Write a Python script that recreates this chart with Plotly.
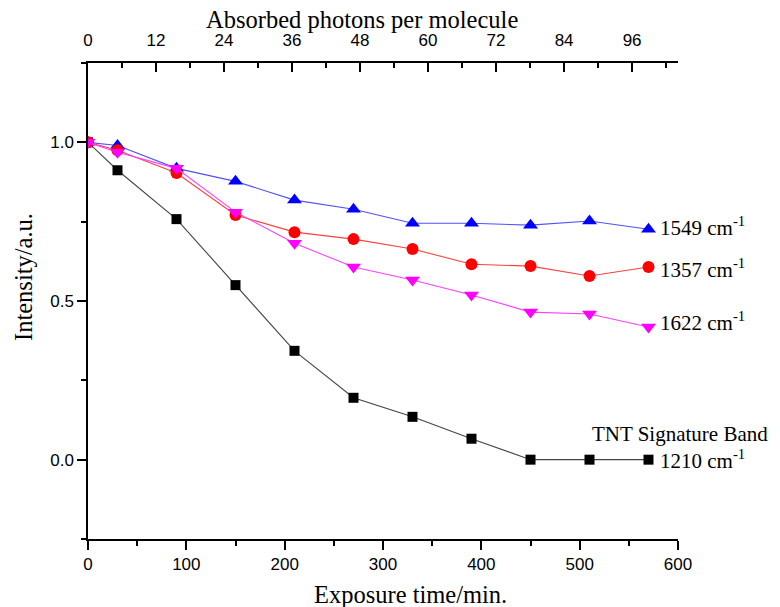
import plotly.graph_objects as go

time_min = [0, 30, 90, 150, 210, 270, 330, 390, 450, 510, 570]
band_1210 = [1.0, 0.912, 0.758, 0.55, 0.343, 0.195, 0.135, 0.066, 0.0, 0.0, 0.0]
band_1549 = [1.0, 0.99, 0.918, 0.877, 0.818, 0.789, 0.745, 0.745, 0.739, 0.752, 0.726]
band_1357 = [1.0, 0.975, 0.903, 0.771, 0.717, 0.695, 0.664, 0.616, 0.61, 0.579, 0.607]
band_1622 = [1.0, 0.969, 0.918, 0.78, 0.682, 0.607, 0.566, 0.519, 0.465, 0.459, 0.418]
photon_ticks = [0, 12, 24, 36, 48, 60, 72, 84, 96]
time_range = [0, 600]
photon_range = [0, 104.1]
y_range = [-0.25, 1.25]

SERIF = "Liberation Serif, Times New Roman, serif"
SANS = "Liberation Sans, Arial, sans-serif"

fig = go.Figure()

def add(y, color, line_color, symbol, size):
    fig.add_trace(go.Scatter(
        x=time_min, y=y, mode="lines+markers",
        line=dict(color=line_color, width=1.1),
        marker=dict(symbol=symbol, size=size, color=color, line=dict(width=0)),
        showlegend=False, hoverinfo="skip"))

add(band_1210, "#000000", "#444444", "square", 10)
add(band_1549, "#0000ff", "#5050ff", "triangle-up", 13)
add(band_1357, "#ff0000", "#ff4040", "circle", 12)
add(band_1622, "#ff00ff", "#ff40ff", "triangle-down", 13)

# invisible trace to carry the top axis
fig.add_trace(go.Scatter(x=photon_ticks, y=[None] * len(photon_ticks), xaxis="x2",
                         mode="markers", showlegend=False, hoverinfo="skip"))

ann_font = dict(family=SERIF, size=21, color="#000")
labels = [
    ("1549 cm<sup>-1</sup>", 0.736),
    ("1357 cm<sup>-1</sup>", 0.604),
    ("1622 cm<sup>-1</sup>", 0.434),
    ("1210 cm<sup>-1</sup>", 0.0),
]
for text, yv in labels:
    fig.add_annotation(x=570, y=yv, xref="x", yref="y", text=text, showarrow=False,
                       xanchor="left", yanchor="middle", xshift=9, font=ann_font)
fig.add_annotation(x=511, y=0.082, xref="x", yref="y", text="TNT Signature Band",
                   showarrow=False, xanchor="left", yanchor="middle", font=ann_font)

title_font = dict(family=SERIF, size=24.5, color="#000")
tick_font = dict(family=SANS, size=17, color="#000")

# axis titles as paper-positioned annotations
fig.add_annotation(x=0.465, y=1.0905, xref="paper", yref="paper", text="Absorbed photons per molecule",
                   showarrow=False, xanchor="center", yanchor="middle", borderpad=0, font=title_font)
fig.add_annotation(x=0.5458, y=-0.1176, xref="paper", yref="paper", text="Exposure time/min.",
                   showarrow=False, xanchor="center", yanchor="middle", font=title_font)
fig.add_annotation(x=-0.1102, y=0.5504, xref="paper", yref="paper", text="Intensity/a.u.",
                   showarrow=False, xanchor="center", yanchor="middle", textangle=-90, font=title_font)

fig.update_layout(
    width=780, height=607,
    margin=dict(l=80, r=110, t=55, b=76, autoexpand=False),
    paper_bgcolor="white", plot_bgcolor="white",
    xaxis=dict(range=time_range, dtick=100, tick0=0, showgrid=False, zeroline=False,
               showline=True, linecolor="black", linewidth=1.5, automargin=False,
               ticks="outside", ticklen=9, tickwidth=1.5, tickcolor="black",
               minor=dict(dtick=50, ticks="outside", ticklen=5, tickwidth=1.5, tickcolor="black"),
               tickfont=tick_font),
    xaxis2=dict(range=photon_range, overlaying="x", side="top", anchor="y",
                tickvals=photon_ticks, showgrid=False, zeroline=False, automargin=False,
                showline=True, linecolor="black", linewidth=1.5,
                ticks="inside", ticklen=9, tickwidth=1.5, tickcolor="black",
                minor=dict(dtick=6, tick0=0, ticks="inside", ticklen=5, tickwidth=1.5, tickcolor="black"),
                tickfont=tick_font, ticklabelstandoff=8),
    yaxis=dict(range=y_range, tickvals=[0, 0.5, 1.0], tickformat=".1f",
               showgrid=False, zeroline=False, automargin=False,
               showline=True, linecolor="black", linewidth=1.5,
               ticks="outside", ticklen=9, tickwidth=1.5, tickcolor="black",
               minor=dict(tickvals=[-0.25, 0.25, 0.75, 1.25], ticks="outside", ticklen=5,
                          tickwidth=1.5, tickcolor="black"),
               tickfont=tick_font),
)

fig.write_html("out.html")
